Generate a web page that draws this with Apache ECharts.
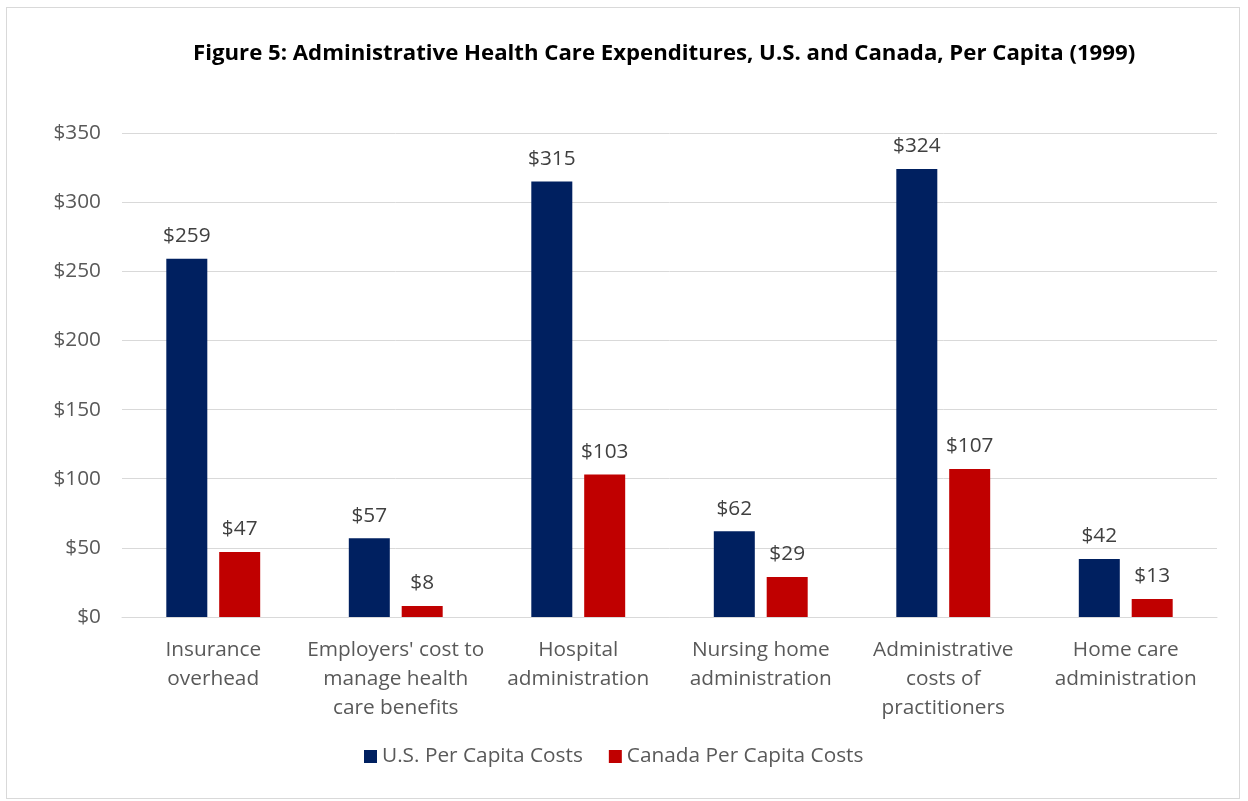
<!DOCTYPE html>
<html><head><meta charset="utf-8">
<script src="https://cdn.jsdelivr.net/npm/echarts@6/dist/echarts.min.js"></script>
<style>html,body{margin:0;padding:0;background:#fff}#c{width:1248px;height:801px}
#frame{position:absolute;left:6px;top:7px;width:1234px;height:792px;border:1px solid #d9d9d9;pointer-events:none;box-sizing:border-box}</style>
</head><body><div id="c"></div><div id="frame"></div>
<script>
const categories = ["Insurance\noverhead", "Employers' cost to\nmanage health\ncare benefits", "Hospital\nadministration", "Nursing home\nadministration", "Administrative\ncosts of\npractitioners", "Home care\nadministration"];
const usCosts = [259, 57, 315, 62, 324, 42];
const canadaCosts = [47, 8, 103, 29, 107, 13];
const seriesNames = ["U.S. Per Capita Costs", "Canada Per Capita Costs"];
const titleText = "Figure 5: Administrative Health Care Expenditures, U.S. and Canada, Per Capita (1999)";

const FONT = "Open Sans";
const FS = 20.8;
const chart = echarts.init(document.getElementById('c'), null, {renderer: 'canvas'});
const lbl = {show: true, position: 'top', distance: 12, formatter: p => '$' + p.value, color: '#404040', fontSize: FS, fontFamily: FONT};
chart.setOption({
  animation: false,
  title: {text: titleText, left: 188, top: 38, textStyle: {fontFamily: FONT, fontWeight: 'bold', fontSize: 22.2, color: '#000'}},
  legend: {bottom: 29, left: 359, itemWidth: 13, itemHeight: 13, itemGap: 26, icon: 'rect',
    textStyle: {fontFamily: FONT, fontSize: FS, color: '#595959'}, data: seriesNames},
  grid: {left: 122, right: 31, top: 133, bottom: 184, containLabel: false},
  xAxis: {type: 'category', data: categories,
    axisLine: {lineStyle: {color: '#d9d9d9', width: 1}}, axisTick: {show: false},
    axisLabel: {fontFamily: FONT, fontSize: FS, color: '#595959', lineHeight: 29, margin: 19, interval: 0}},
  yAxis: {type: 'value', min: 0, max: 350, interval: 50,
    axisLine: {show: false}, axisTick: {show: false},
    splitLine: {lineStyle: {color: '#d9d9d9', width: 1}},
    axisLabel: {fontFamily: FONT, fontSize: FS, color: '#595959', margin: 21, formatter: v => '$' + v}},
  series: [
    {name: seriesNames[0], type: 'bar', data: usCosts, barWidth: 41, barGap: '29%', itemStyle: {color: '#002060'}, label: lbl},
    {name: seriesNames[1], type: 'bar', data: canadaCosts, barWidth: 41, itemStyle: {color: '#C00000'}, label: lbl}
  ]
});
</script></body></html>
